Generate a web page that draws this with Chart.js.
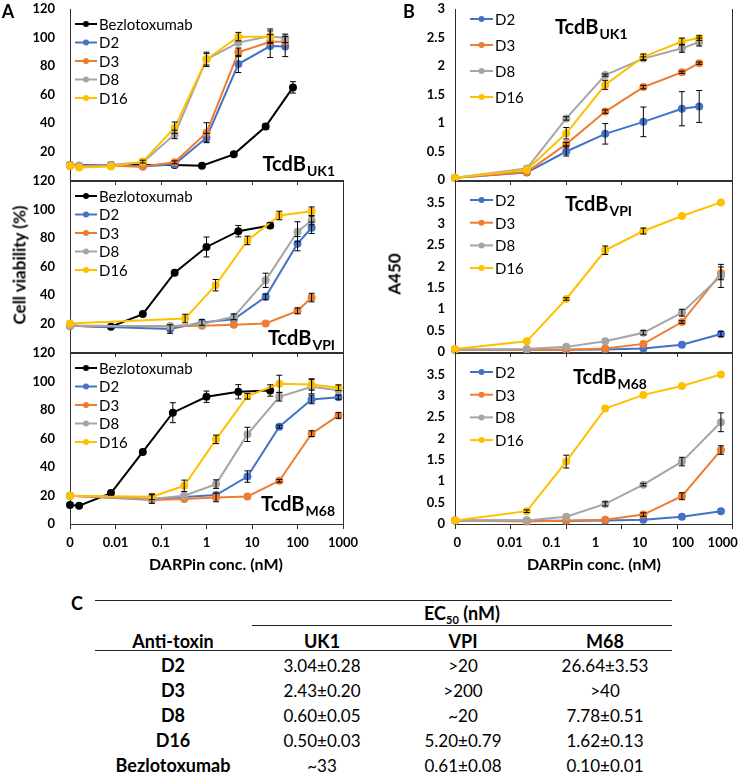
<!DOCTYPE html>
<html>
<head>
<meta charset="utf-8">
<script src="https://cdn.jsdelivr.net/npm/chart.js@4.4.1/dist/chart.umd.min.js"></script>
<style>
  body { margin: 0; background: #fff; }
  #fig { position: relative; width: 750px; height: 773px; overflow: hidden; font-family: Lato, sans-serif; color: #000; }
  #fig canvas { position: absolute; }
  .t { position: absolute; white-space: nowrap; transform: translate(-50%, -50%); }
  .b { font-weight: bold; }
  .rule { position: absolute; height: 0; border-top: 1px solid #222; }
</style>
</head>
<body>
<div id="fig">
  <canvas id="aUk1"></canvas>
  <canvas id="aVpi"></canvas>
  <canvas id="aM68"></canvas>
  <canvas id="bUk1"></canvas>
  <canvas id="bVpi"></canvas>
  <canvas id="bM68"></canvas>

  <div class="t b" style="left:8px;top:11px;font-size:18px">A</div>
  <div class="t b" style="left:409px;top:11px;font-size:18px">B</div>
  <div class="t b" style="left:77px;top:603px;font-size:18px">C</div>

  <div class="t b" style="left:19px;top:265px;font-size:17px;transform:translate(-50%,-50%) rotate(-90deg)">Cell viability (%)</div>
  <div class="t b" style="left:394px;top:274px;font-size:17px;transform:translate(-50%,-50%) rotate(-90deg)">A450</div>
  <div class="t b" style="left:216px;top:563px;font-size:16px">DARPin conc. (nM)</div>
  <div class="t b" style="left:594px;top:563px;font-size:16px">DARPin conc. (nM)</div>
</div>

<script>
// x positions are decades on the axis: 0 -> "0", 1 -> 0.01, ... 6 -> 1000
var xLabels = ['0', '0.01', '0.1', '1', '10', '100', '1000'];
var aLabelPos = [0, 1, 2, 3, 4, 5, 6];
// panel B labels sit a little off the even grid, as in the figure
var bLabelPos = [0.05, 1.24, 2.18, 3.17, 4.17, 5.14, 6.04];
var yTicksA = [20, 40, 60, 80, 100, 120];
var yTicksA0 = [0, 20, 40, 60, 80, 100, 120];
var yTicksB3 = [0, 0.5, 1, 1.5, 2, 2.5, 3];
var yTicksB4 = [0, 0.5, 1, 1.5, 2, 2.5, 3, 3.5];
var bTickMarks = [0, 1.25, 2.5, 3.75, 5, 6.25];

// A - TcdB UK1 (cell viability %)
var aUk1BezX = [0, 0.9, 1.6, 2.3, 2.9, 3.6, 4.3, 4.9];
var aUk1Bez = [10.5, 10.5, 10.5, 10.5, 10, 18, 37.5, 65];
var aUk1BezErr = [0, 0, 0, 0, 0, 1, 2, 4];
var aUk1X = [0, 0.2, 0.9, 1.6, 2.3, 3.0, 3.7, 4.4, 4.73];
var aUk1D2 = [10, 10, 10, 9.4, 11, 29.7, 81.4, 94, 93.6];
var aUk1D2Err = [0, 0, 0, 0, 0, 3, 6, 8, 7];
var aUk1D3 = [10, 10, 10, 9.4, 12.4, 33.2, 89.6, 97, 97];
var aUk1D3Err = [0, 0, 0, 0, 1, 7, 3, 0, 0];
var aUk1D8 = [10.5, 10, 10.5, 12.4, 32, 84.7, 96.4, 101, 99.4];
var aUk1D8Err = [0, 0, 0, 0, 3, 4, 0, 5, 3];
var aUk1D16X = [0, 0.2, 0.9, 1.6, 2.3, 3.0, 3.7, 4.4];
var aUk1D16 = [10, 8.7, 9.4, 12.9, 36.7, 84.7, 100.6, 100.6];
var aUk1D16Err = [0, 0, 0, 1, 4, 5, 3, 4];

// A - TcdB VPI
var aVpiBezX = [0, 0.9, 1.6, 2.3, 3.0, 3.7, 4.4];
var aVpiBez = [18.4, 17.7, 26.6, 55.7, 73.7, 84.8, 88.8];
var aVpiBezErr = [0, 0, 0, 0, 7, 4, 2];
var aVpiX = [0, 2.2, 2.9, 3.6, 4.3, 5.0, 5.31];
var aVpiD2 = [18.4, 16.1, 20.7, 23, 38.7, 76, 87.2];
var aVpiD2Err = [0, 3, 2, 0, 2, 5, 4];
var aVpiD3 = [18.4, 18, 18.4, 19.1, 20, 28.9, 38.2];
var aVpiD3Err = [0, 0, 0, 0, 0, 2, 3];
var aVpiD8 = [18.4, 18, 19.6, 24.7, 50.3, 84.4, 92.3];
var aVpiD8Err = [0, 0, 0, 2, 5, 7, 3];
var aVpiD16X = [0, 2.53, 3.2, 3.9, 4.6, 5.31];
var aVpiD16 = [20, 23.5, 46.9, 78.3, 95.8, 98.8];
var aVpiD16Err = [0, 3, 4, 3, 3, 3];

// A - TcdB M68
var aM68BezX = [0, 0.2, 0.9, 1.6, 2.26, 3.0, 3.7, 4.4];
var aM68Bez = [13.3, 12.8, 21.7, 50.6, 78.1, 89.3, 92.8, 93.7];
var aM68BezErr = [0, 0, 1.5, 1.5, 7, 4, 5, 4];
var aM68X = [0, 1.8, 2.51, 3.21, 3.9, 4.6, 5.31, 5.9];
var aM68D2 = [19.8, 17.5, 19, 20.3, 33.3, 68.3, 87.4, 89];
var aM68D2Err = [0, 0, 0, 0, 4, 1, 3, 1.5];
var aM68D3 = [19.8, 16.8, 17.5, 18.6, 19.3, 30.3, 63.4, 76.2];
var aM68D3Err = [0, 0, 0, 3, 0, 1, 2, 2];
var aM68D8 = [19.8, 17.5, 19.8, 28, 62.9, 89.3, 96.3, 93.9];
var aM68D8Err = [0, 3, 0, 3, 5, 3, 5, 0];
var aM68D16 = [19.8, 19.1, 26.8, 59.4, 89.7, 98.4, 97.9, 95.6];
var aM68D16Err = [0, 2, 4, 3, 2, 6, 4, 2];

// B - binding (A450)
var bUk1X = [0, 1.62, 2.51, 3.39, 4.25, 5.12, 5.51];
var bUk1D2 = [0.04, 0.13, 0.5, 0.81, 1.02, 1.25, 1.29];
var bUk1D2Err = [0, 0, 0.08, 0.18, 0.26, 0.3, 0.28];
var bUk1D3 = [0.04, 0.14, 0.63, 1.2, 1.63, 1.89, 2.05];
var bUk1D3Err = [0, 0, 0.03, 0.03, 0.03, 0.02, 0.02];
var bUk1D8 = [0.04, 0.2, 1.08, 1.84, 2.13, 2.31, 2.42];
var bUk1D8Err = [0, 0, 0.03, 0.02, 0.03, 0.07, 0.07];
var bUk1D16 = [0.04, 0.18, 0.82, 1.67, 2.16, 2.43, 2.49];
var bUk1D16Err = [0, 0, 0.1, 0.08, 0.05, 0.06, 0.04];

var bX = [0, 1.62, 2.51, 3.39, 4.25, 5.12, 6.0];
var bVpiD2 = [0.05, 0.05, 0.05, 0.06, 0.08, 0.17, 0.42];
var bVpiD2Err = [0, 0, 0, 0, 0, 0, 0.06];
var bVpiD3 = [0.05, 0.05, 0.05, 0.08, 0.19, 0.7, 1.84];
var bVpiD3Err = [0, 0, 0, 0, 0, 0.03, 0.15];
var bVpiD8 = [0.05, 0.07, 0.12, 0.25, 0.45, 0.92, 1.78];
var bVpiD8Err = [0, 0, 0, 0, 0.05, 0.08, 0.27];
var bVpiD16 = [0.07, 0.25, 1.24, 2.38, 2.83, 3.18, 3.5];
var bVpiD16Err = [0, 0, 0.03, 0.1, 0.07, 0, 0];

var bM68D2 = [0.08, 0.08, 0.07, 0.08, 0.1, 0.17, 0.3];
var bM68D2Err = [0, 0, 0, 0, 0, 0, 0];
var bM68D3 = [0.08, 0.06, 0.08, 0.1, 0.22, 0.65, 1.73];
var bM68D3Err = [0, 0, 0, 0, 0.04, 0.08, 0.1];
var bM68D8 = [0.08, 0.08, 0.17, 0.47, 0.92, 1.46, 2.38];
var bM68D8Err = [0, 0, 0, 0.05, 0.03, 0.1, 0.22];
var bM68D16 = [0.08, 0.3, 1.46, 2.7, 3.02, 3.23, 3.5];
var bM68D16Err = [0, 0.03, 0.15, 0, 0, 0, 0];

// C - EC50 table
var tableAgents = ['D2', 'D3', 'D8', 'D16', 'Bezlotoxumab'];
var ec50Uk1 = ['3.04±0.28', '2.43±0.20', '0.60±0.05', '0.50±0.03', '~33'];
var ec50Vpi = ['>20', '>200', '~20', '5.20±0.79', '0.61±0.08'];
var ec50M68 = ['26.64±3.53', '>40', '7.78±0.51', '1.62±0.13', '0.10±0.01'];

var COLORS = { Bezlotoxumab: '#000000', D2: '#4472C4', D3: '#ED7D31', D8: '#A5A5A5', D16: '#FFC000' };
var AXIS = '#303030';

Chart.defaults.font.family = 'Lato, sans-serif';
Chart.defaults.color = '#000';

function s(name, xs, ys, errs) { return { name: name, xs: xs, ys: ys, errs: errs }; }

// error bars, drawn with the chart scales
var errorBars = {
  id: 'errorBars',
  afterDatasetsDraw: function (chart) {
    var ctx = chart.ctx, xs = chart.scales.x, ys = chart.scales.y;
    ctx.save();
    ctx.strokeStyle = '#000';
    ctx.lineWidth = 1;
    chart.data.datasets.forEach(function (ds) {
      if (!ds.err) return;
      ds.data.forEach(function (pt, k) {
        var e = ds.err[k];
        if (!e) return;
        var px = xs.getPixelForValue(pt.x);
        var y1 = ys.getPixelForValue(pt.y - e), y2 = ys.getPixelForValue(pt.y + e);
        ctx.beginPath();
        ctx.moveTo(px, y1); ctx.lineTo(px, y2);
        ctx.moveTo(px - 3, y1); ctx.lineTo(px + 3, y1);
        ctx.moveTo(px - 3, y2); ctx.lineTo(px + 3, y2);
        ctx.stroke();
      });
    });
    ctx.restore();
  }
};

// legend inside the plot, top left
var panelLegend = {
  id: 'panelLegend',
  afterDraw: function (chart, args, o) {
    var ctx = chart.ctx, a = chart.chartArea;
    ctx.save();
    ctx.font = '15px Lato';
    ctx.textBaseline = 'middle';
    chart.data.datasets.forEach(function (ds, i) {
      var x = a.left + o.x, y = a.top + o.y + i * o.gap;
      ctx.strokeStyle = ds.borderColor;
      ctx.lineWidth = 2;
      ctx.beginPath(); ctx.moveTo(x, y); ctx.lineTo(x + o.len, y); ctx.stroke();
      ctx.fillStyle = ds.borderColor;
      ctx.beginPath(); ctx.arc(x + o.len / 2, y, 3, 0, Math.PI * 2); ctx.fill();
      ctx.fillStyle = '#000';
      ctx.fillText(ds.label, x + o.len + 2, y + 1);
    });
    ctx.restore();
  }
};

// "TcdB" with subscript strain
var panelTitle = {
  id: 'panelTitle',
  afterDraw: function (chart, args, o) {
    var ctx = chart.ctx, a = chart.chartArea;
    ctx.save();
    ctx.fillStyle = '#000';
    ctx.textBaseline = 'alphabetic';
    ctx.font = 'bold 20px Lato';
    var w1 = ctx.measureText(o.main).width;
    ctx.font = 'bold 14px Lato';
    var w2 = ctx.measureText(o.sub).width;
    var x = o.align === 'right' ? a.right - o.dx - w1 - w2 - 1 : a.left + o.dx;
    var y = a.top + o.dy;
    ctx.font = 'bold 20px Lato';
    ctx.fillText(o.main, x, y);
    ctx.font = 'bold 14px Lato';
    ctx.fillText(o.sub, x + w1 + 1, y + 5);
    ctx.restore();
  }
};

// top / right frame lines and free-standing x tick marks
var frame = {
  id: 'frame',
  afterDraw: function (chart, args, o) {
    var ctx = chart.ctx, a = chart.chartArea;
    ctx.save();
    ctx.strokeStyle = AXIS;
    ctx.lineWidth = 1;
    ctx.beginPath();
    if (o.top) { ctx.moveTo(a.left, a.top + 0.5); ctx.lineTo(a.right, a.top + 0.5); }
    if (o.right) { ctx.moveTo(Math.round(a.right) + 0.5, a.top); ctx.lineTo(Math.round(a.right) + 0.5, a.bottom); }
    if (o.marks) {
      o.marks.forEach(function (v) {
        var px = Math.round(chart.scales.x.getPixelForValue(v)) + 0.5;
        ctx.moveTo(px, a.bottom); ctx.lineTo(px, a.bottom + 5);
      });
    }
    ctx.stroke();
    ctx.restore();
  }
};

function makePanel(id, p) {
  var yw = p.yw, padTop = 10, padRight = 24;
  var xh = p.bottom ? 40 : 8;
  var cv = document.getElementById(id);
  cv.width = yw + p.w + padRight;
  cv.height = padTop + p.h + xh;
  cv.style.left = (p.left - yw) + 'px';
  cv.style.top = (p.top - padTop) + 'px';

  var n = p.series.length;
  var datasets = p.series.map(function (sr, i) {
    return {
      label: sr.name,
      data: sr.xs.map(function (x, k) { return { x: x, y: sr.ys[k] }; }),
      err: sr.errs,
      borderColor: COLORS[sr.name],
      backgroundColor: COLORS[sr.name],
      borderWidth: 2,
      pointRadius: 3,
      pointHoverRadius: 3,
      showLine: true,
      clip: false,
      order: n - i
    };
  });

  return new Chart(cv, {
    type: 'scatter',
    data: { datasets: datasets },
    options: {
      responsive: false,
      maintainAspectRatio: false,
      animation: false,
      events: [],
      layout: { padding: { top: padTop, right: padRight, left: 0, bottom: 0 } },
      plugins: {
        legend: { display: false },
        tooltip: { enabled: false },
        panelLegend: p.legend,
        panelTitle: p.title,
        frame: p.frame
      },
      scales: {
        x: {
          type: 'linear', min: 0, max: p.xmax,
          afterBuildTicks: function (sc) { sc.ticks = p.xPos.map(function (v) { return { value: v }; }); },
          ticks: {
            display: p.bottom, autoSkip: false, maxRotation: 0, padding: 6,
            font: { size: 13, weight: 'bold' }, color: '#000',
            callback: function (v, i) { return xLabels[i]; }
          },
          grid: { display: !p.frame.marks, drawOnChartArea: false, drawTicks: true, tickLength: 5, color: AXIS },
          border: { display: true, color: AXIS, width: 1 },
          afterFit: function (sc) { sc.height = xh; sc.paddingLeft = 0; sc.paddingRight = 0; }
        },
        y: {
          min: 0, max: p.ymax,
          afterBuildTicks: function (sc) { sc.ticks = p.yTicks.map(function (v) { return { value: v }; }); },
          ticks: {
            padding: p.ypad, font: { size: 13, weight: 'bold' }, color: '#000',
            callback: function (v) { return String(v); }
          },
          grid: { display: false, drawTicks: false },
          border: { display: true, color: AXIS, width: 1 },
          afterFit: function (sc) { sc.width = yw; sc.paddingTop = 0; sc.paddingBottom = 0; }
        }
      }
    },
    plugins: [errorBars, panelLegend, panelTitle, frame]
  });
}

var legA = { x: 5, y: 15, gap: 18.5, len: 22 };
var A = { left: 70, w: 273, h: 171, yw: 68, ypad: 15, xmax: 6, ymax: 120, xPos: aLabelPos };
var B = { left: 455, w: 277, h: 171, yw: 60, ypad: 10, xmax: 6.25, xPos: bLabelPos };

function panel(base, extra) {
  var o = {};
  Object.keys(base).forEach(function (k) { o[k] = base[k]; });
  Object.keys(extra).forEach(function (k) { o[k] = extra[k]; });
  return o;
}

makePanel('aUk1', panel(A, {
  top: 9, bottom: false, yTicks: yTicksA, legend: legA,
  title: { main: 'TcdB', sub: 'UK1', align: 'right', dx: 8, dy: 162 },
  frame: { top: false, right: false },
  series: [
    s('Bezlotoxumab', aUk1BezX, aUk1Bez, aUk1BezErr),
    s('D2', aUk1X, aUk1D2, aUk1D2Err),
    s('D3', aUk1X, aUk1D3, aUk1D3Err),
    s('D8', aUk1X, aUk1D8, aUk1D8Err),
    s('D16', aUk1D16X, aUk1D16, aUk1D16Err)
  ]
}));

makePanel('aVpi', panel(A, {
  top: 181, bottom: false, yTicks: yTicksA, legend: legA,
  title: { main: 'TcdB', sub: 'VPI', align: 'right', dx: 8, dy: 164 },
  frame: { top: true, right: true },
  series: [
    s('Bezlotoxumab', aVpiBezX, aVpiBez, aVpiBezErr),
    s('D2', aVpiX, aVpiD2, aVpiD2Err),
    s('D3', aVpiX, aVpiD3, aVpiD3Err),
    s('D8', aVpiX, aVpiD8, aVpiD8Err),
    s('D16', aVpiD16X, aVpiD16, aVpiD16Err)
  ]
}));

makePanel('aM68', panel(A, {
  top: 353, bottom: true, yTicks: yTicksA0, legend: legA,
  title: { main: 'TcdB', sub: 'M68', align: 'right', dx: 8, dy: 158 },
  frame: { top: true, right: true },
  series: [
    s('Bezlotoxumab', aM68BezX, aM68Bez, aM68BezErr),
    s('D2', aM68X, aM68D2, aM68D2Err),
    s('D3', aM68X, aM68D3, aM68D3Err),
    s('D8', aM68X, aM68D8, aM68D8Err),
    s('D16', aM68X, aM68D16, aM68D16Err)
  ]
}));

makePanel('bUk1', panel(B, {
  top: 9, bottom: false, ymax: 3, yTicks: yTicksB3,
  legend: { x: 15, y: 10, gap: 26, len: 23 },
  title: { main: 'TcdB', sub: 'UK1', align: 'left', dx: 100, dy: 25 },
  frame: { top: false, right: true, marks: bTickMarks },
  series: [
    s('D2', bUk1X, bUk1D2, bUk1D2Err),
    s('D3', bUk1X, bUk1D3, bUk1D3Err),
    s('D8', bUk1X, bUk1D8, bUk1D8Err),
    s('D16', bUk1X, bUk1D16, bUk1D16Err)
  ]
}));

makePanel('bVpi', panel(B, {
  top: 181, bottom: false, ymax: 4, yTicks: yTicksB4,
  legend: { x: 15, y: 19, gap: 22.7, len: 23 },
  title: { main: 'TcdB', sub: 'VPI', align: 'left', dx: 110, dy: 30 },
  frame: { top: true, right: true, marks: bTickMarks },
  series: [
    s('D2', bX, bVpiD2, bVpiD2Err),
    s('D3', bX, bVpiD3, bVpiD3Err),
    s('D8', bX, bVpiD8, bVpiD8Err),
    s('D16', bX, bVpiD16, bVpiD16Err)
  ]
}));

makePanel('bM68', panel(B, {
  top: 353, bottom: true, ymax: 4, yTicks: yTicksB4,
  legend: { x: 15, y: 19, gap: 22.7, len: 23 },
  title: { main: 'TcdB', sub: 'M68', align: 'left', dx: 118, dy: 31 },
  frame: { top: true, right: true, marks: bTickMarks },
  series: [
    s('D2', bX, bM68D2, bM68D2Err),
    s('D3', bX, bM68D3, bM68D3Err),
    s('D8', bX, bM68D8, bM68D8Err),
    s('D16', bX, bM68D16, bM68D16Err)
  ]
}));

// table C
(function () {
  var fig = document.getElementById('fig');
  function text(str, x, y, bold, html) {
    var d = document.createElement('div');
    d.className = 't' + (bold ? ' b' : '');
    d.style.left = x + 'px';
    d.style.top = y + 'px';
    d.style.fontSize = bold ? '18px' : '17px';
    if (html) d.innerHTML = str; else d.textContent = str;
    fig.appendChild(d);
  }
  function rule(x1, x2, y) {
    var d = document.createElement('div');
    d.className = 'rule';
    d.style.left = x1 + 'px';
    d.style.width = (x2 - x1) + 'px';
    d.style.top = y + 'px';
    fig.appendChild(d);
  }
  var cols = [173, 322, 463, 605];
  rule(95, 672, 600);
  text('EC<sub style="font-size:11px">50</sub> (nM)', 462, 614, true, true);
  rule(252, 672, 625);
  ['Anti-toxin', 'UK1', 'VPI', 'M68'].forEach(function (h, i) { text(h, cols[i], 641, true); });
  rule(95, 672, 650);
  tableAgents.forEach(function (name, r) {
    var y = 665 + r * 25;
    text(name, cols[0], y, true);
    text(ec50Uk1[r], cols[1], y);
    text(ec50Vpi[r], cols[2], y);
    text(ec50M68[r], cols[3], y);
  });
})();
</script>
</body>
</html>
